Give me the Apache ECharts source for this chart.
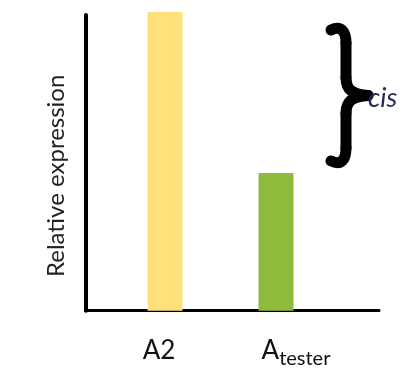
<!DOCTYPE html>
<html>
<head>
<meta charset="utf-8">
<script src="https://cdn.jsdelivr.net/npm/echarts@6/dist/echarts.min.js"></script>
<style>
html,body{margin:0;padding:0;background:#fff;}
#chart{width:411px;height:368px;}
</style>
</head>
<body>
<div id="chart"></div>
<script>
// Data
const categories = ['A2', 'A_tester'];
const values = [101, 46.6];
const barColors = ['#FFE07B', '#8FBA3B'];
const yAxisTitle = 'Relative expression';
const annotationText = 'cis';

const FONT = 'Lato';
const chart = echarts.init(document.getElementById('chart'), null, {renderer: 'canvas', width: 411, height: 368});

const option = {
  backgroundColor: '#ffffff',
  animation: false,
  grid: [
    {left: 85.5, right: 32, top: 15, bottom: 57.3, outerBoundsMode: 'none', containLabel: false},
    {left: 109.5, right: 79.5, top: 15, bottom: 57.3, outerBoundsMode: 'none', containLabel: false}
  ],
  xAxis: [
    {
      gridIndex: 0, type: 'value', min: 0, max: 1,
      axisLine: {show: true, onZero: false, lineStyle: {color: '#000', width: 3}},
      axisTick: {show: false}, axisLabel: {show: false}, splitLine: {show: false}
    },
    {
      gridIndex: 1, type: 'category', data: categories,
      axisLine: {show: false}, axisTick: {show: false}, splitLine: {show: false},
      axisLabel: {
        show: true, margin: 27, color: '#111', fontFamily: FONT,
        formatter: function (v) {
          if (v === 'A2') return '{a2|A2}';
          const parts = v.split('_');
          return '{at|' + parts[0] + '}{s|' + parts[1] + '}';
        },
        rich: {
          a2: {fontFamily: FONT, fontSize: 26, lineHeight: 26, color: '#111', verticalAlign: 'top', padding: [0, 12, 0, 0]},
          at: {fontFamily: FONT, fontSize: 26, lineHeight: 26, color: '#111', verticalAlign: 'top', padding: [0, 0, 0, 40]},
          s: {fontFamily: FONT, fontSize: 20, lineHeight: 31, color: '#111', verticalAlign: 'bottom'}
        }
      }
    }
  ],
  yAxis: [
    {
      gridIndex: 0, type: 'value', min: 0, max: 100,
      name: yAxisTitle, nameLocation: 'middle', nameGap: 17,
      nameTextStyle: {fontFamily: FONT, fontSize: 24, color: '#222', padding: [0, 26, 0, 0]},
      axisLine: {show: true, lineStyle: {color: '#000', width: 4}},
      axisTick: {show: false}, axisLabel: {show: false}, splitLine: {show: false}
    },
    {
      gridIndex: 1, type: 'value', min: 0, max: 100, show: false,
      splitLine: {show: false}
    }
  ],
  series: [
    {
      type: 'bar', xAxisIndex: 1, yAxisIndex: 1, barWidth: 35, clip: false,
      data: values.map((v, i) => ({value: v, itemStyle: {color: barColors[i]}}))
    }
  ]
};
chart.setOption(option);

// Brace annotation spanning the gap between the two bar tops
const yTop = chart.convertToPixel({yAxisIndex: 1}, values[0]) + 11;
const yBot = chart.convertToPixel({yAxisIndex: 1}, values[1]) - 5;
const m = (yTop + yBot) / 2;
const x0 = 331, xs = 346, xt = 368;
const braceStyle = {stroke: '#000', lineWidth: 11, lineCap: 'round', lineJoin: 'round', fill: null};
function bz(x1, y1, c1x, c1y, c2x, c2y, x2, y2) {
  return {type: 'bezierCurve', shape: {x1: x1, y1: y1, cpx1: c1x, cpy1: c1y, cpx2: c2x, cpy2: c2y, x2: x2, y2: y2}, style: braceStyle};
}
function ln(x1, y1, x2, y2) {
  return {type: 'line', shape: {x1: x1, y1: y1, x2: x2, y2: y2}, style: braceStyle};
}
const braceParts = [
  bz(x0, yTop + 7, x0 + 10, yTop + 2, xs, yTop + 8, xs, yTop + 20),
  ln(xs, yTop + 20, xs, m - 18),
  bz(xs, m - 18, xs, m - 6, xs + 6, m - 1, xt, m),
  bz(xt, m, xs + 6, m + 1, xs, m + 6, xs, m + 18),
  ln(xs, m + 18, xs, yBot - 20),
  bz(xs, yBot - 20, xs, yBot - 8, x0 + 10, yBot - 2, x0, yBot - 7)
];

chart.setOption({
  graphic: braceParts.concat([
    {
      type: 'text', x: 368, y: m + 3,
      style: {text: annotationText, fontFamily: FONT, fontStyle: 'italic', fontSize: 27, fill: '#1F2D55', verticalAlign: 'middle', align: 'left'}
    }
  ])
});
</script>
</body>
</html>
